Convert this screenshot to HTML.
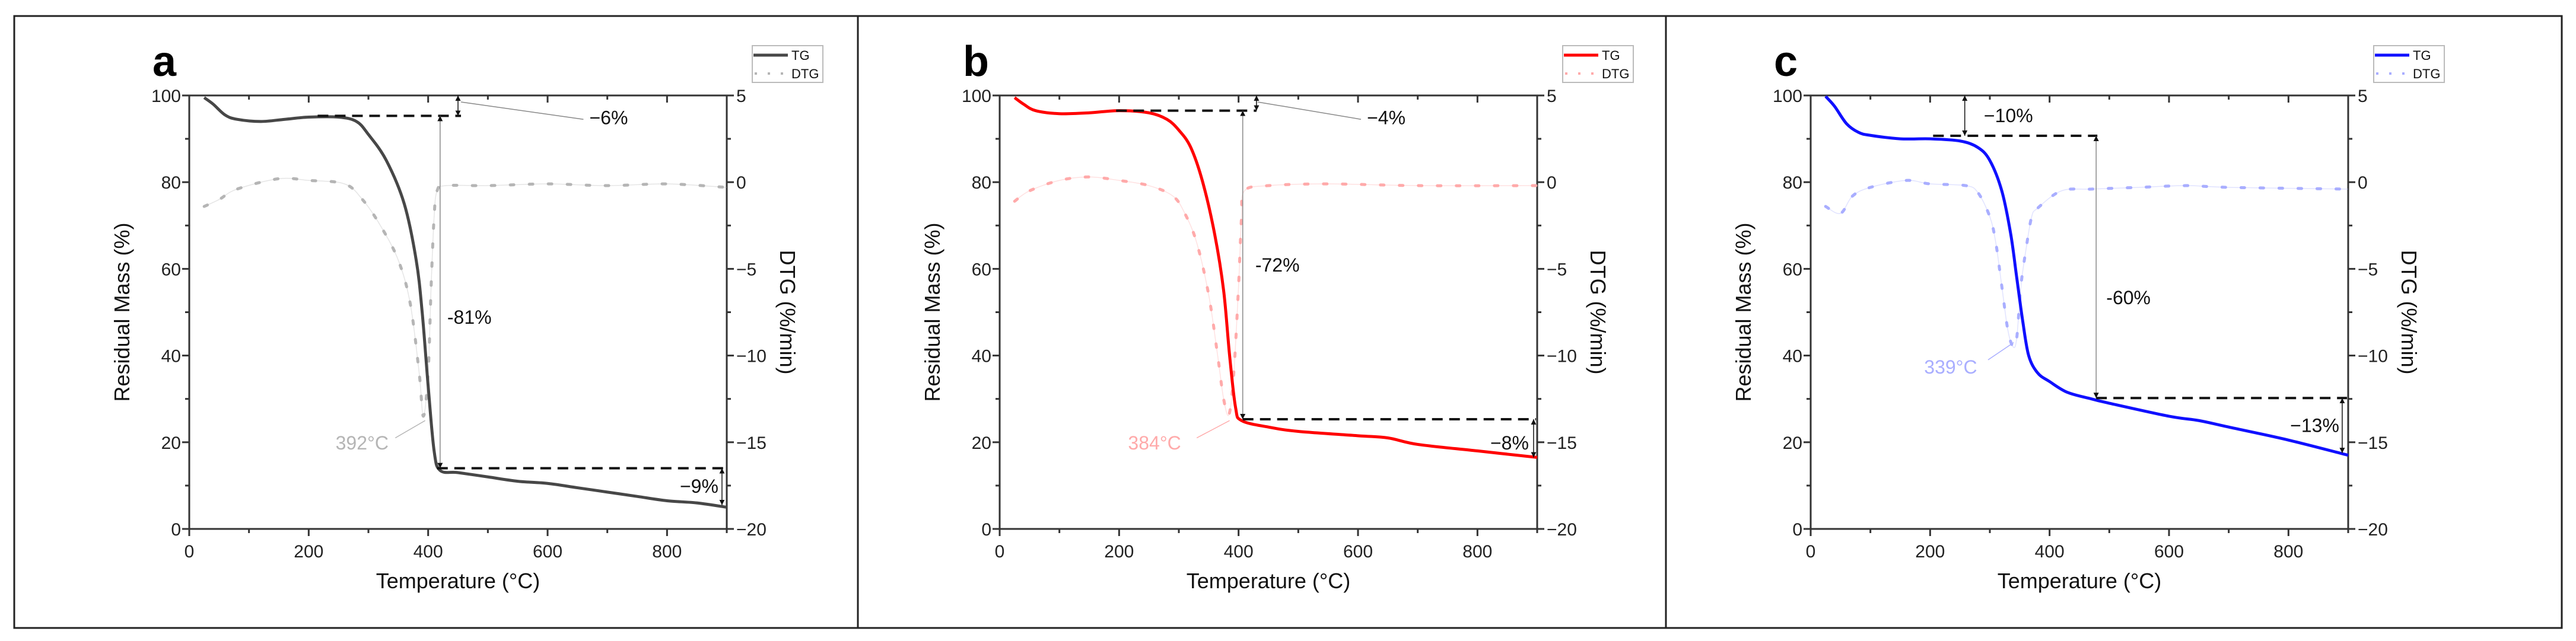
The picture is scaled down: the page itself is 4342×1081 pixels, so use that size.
<!DOCTYPE html>
<html><head><meta charset="utf-8"><style>
html,body{margin:0;padding:0;background:#fff;}
svg{display:block;font-family:"Liberation Sans",Arial,sans-serif;}
</style></head><body>
<svg id="fig" width="4342" height="1081" viewBox="0 0 4342 1081" xmlns="http://www.w3.org/2000/svg">
<rect x="24" y="27" width="4294" height="1032" fill="none" stroke="#222" stroke-width="3"/>
<line x1="1446" y1="27" x2="1446" y2="1059" stroke="#222" stroke-width="3"/>
<line x1="2808" y1="27" x2="2808" y2="1059" stroke="#222" stroke-width="3"/>
</svg>
<script>
// ---- data (temperature °C, residual mass %, DTG %/min) ----
const tgA_T = [25,40,60,80,120,160,200,250,280,300,330,360,380,390,400,410,420,450,500,550,600,650,700,750,800,850,900];
const tgA_M = [99.5,98,95.5,94.5,94,94.5,95,95,94,91,85,75,62,50,33,18,13.5,13,12,11,10.5,9.5,8.5,7.5,6.5,6,5];
const dtgA_T = [25,50,80,150,200,260,290,320,350,370,385,392,400,405,410,415,430,500,600,700,800,900];
const dtgA_V = [-1.4,-1,-0.4,0.2,0.1,-0.1,-1,-2.5,-4.5,-7,-11,-13.5,-11,-6,-2,-0.5,-0.2,-0.2,-0.1,-0.2,-0.1,-0.3];

const tgB_T = [25,40,60,100,150,200,250,280,300,320,340,360,375,385,395,405,450,500,600,650,700,800,900];
const tgB_M = [99.5,98,96.5,95.8,96,96.5,96,94.5,92,88,80,68,55,40,28,25,23.5,22.5,21.5,21,19.5,18,16.5];
const dtgB_T = [25,50,100,150,200,250,290,310,330,350,365,375,384,392,400,405,410,450,550,700,900];
const dtgB_V = [-1.1,-0.5,0.1,0.3,0.1,-0.2,-0.8,-1.8,-3.5,-6.5,-10,-12.5,-13.4,-11,-6,-2,-0.5,-0.2,-0.1,-0.2,-0.2];

const tgC_T = [25,40,60,80,100,150,200,250,280,300,320,335,345,355,365,380,400,430,470,500,600,650,700,800,900];
const tgC_M = [99.8,97.5,93.5,91.5,90.8,90,90,89.5,88,85,78,68,58,48,40,36,34,31.5,30,29,26,25,23.5,20.5,17];
const dtgC_T = [25,50,70,100,160,200,260,280,300,310,320,330,339,345,352,360,370,380,420,470,550,630,700,900];
const dtgC_V = [-1.4,-1.8,-0.8,-0.3,0.1,-0.1,-0.2,-0.6,-2,-3.5,-6,-8.5,-9.5,-9,-6,-4,-2,-1.5,-0.5,-0.4,-0.3,-0.2,-0.3,-0.4];

const xTicks = [0,200,400,600,800];
const yTicks = [0,20,40,60,80,100];
const y2Ticks = [5,0,-5,-10,-15,-20];
const y2Labels = ["5","0","\u22125","\u221210","\u221215","\u221220"];

const NS = "http://www.w3.org/2000/svg";
const svg = document.getElementById("fig");
function mk(tag, attrs, parent, text){
  const e = document.createElementNS(NS, tag);
  for (const k in attrs) e.setAttribute(k, attrs[k]);
  if (text !== undefined) e.textContent = text;
  (parent||svg).appendChild(e);
  return e;
}
function smooth(pts){
  let d = "M" + pts[0][0] + "," + pts[0][1];
  for (let i = 0; i < pts.length - 1; i++) {
    const p0 = pts[Math.max(0,i-1)], p1 = pts[i], p2 = pts[i+1], p3 = pts[Math.min(pts.length-1,i+2)];
    const c1x = p1[0] + (p2[0]-p0[0])/6, c1y = p1[1] + (p2[1]-p0[1])/6;
    const c2x = p2[0] - (p3[0]-p1[0])/6, c2y = p2[1] - (p3[1]-p1[1])/6;
    d += " C" + c1x + "," + c1y + " " + c2x + "," + c2y + " " + p2[0] + "," + p2[1];
  }
  return d;
}

const panels = [
  {id:"a", x0:319, tgT:tgA_T, tgM:tgA_M, dT:dtgA_T, dV:dtgA_V, tg:"#474747", dtg:"#b5b5b5",
   top:{y:95.3, x1:215, x2:455, ax:450, lbl:"\u22126%", lx:670, ly:95, leader:[455,98.5,660,94.5]},
   mid:{x:420, y1:95.3, y2:14, lbl:"-81%", lx:432, ly:49},
   bot:{y:14, x1:415, x2:898, ax:892, y2:5.5, lbl:"\u22129%", lx:886, ly:10},
   peak:{lbl:"392\u00b0C", lx:245, ly:20, leader:[345,21,395,25]}},
  {id:"b", x0:1685, tgT:tgB_T, tgM:tgB_M, dT:dtgB_T, dV:dtgB_V, tg:"#ff0000", dtg:"#ffaaaa",
   top:{y:96.5, x1:195, x2:430, ax:430, lbl:"\u22124%", lx:615, ly:95, leader:[432,98.5,605,94.5]},
   mid:{x:407, y1:96.5, y2:25.3, lbl:"-72%", lx:428, ly:61},
   bot:{y:25.3, x1:407, x2:898, ax:894, y2:16.5, lbl:"\u22128%", lx:886, ly:20},
   peak:{lbl:"384\u00b0C", lx:215, ly:20, leader:[330,21,385,25]}},
  {id:"c", x0:3052, tgT:tgC_T, tgM:tgC_M, dT:dtgC_T, dV:dtgC_V, tg:"#1010ff", dtg:"#a9aeff",
   top:{y:90.7, x1:205, x2:480, ax:258, lbl:"\u221210%", lx:290, ly:95.5, leader:null},
   mid:{x:478, y1:90.7, y2:30.2, lbl:"-60%", lx:495, ly:53.5},
   bot:{y:30.2, x1:478, x2:898, ax:890, y2:17.5, lbl:"\u221213%", lx:885, ly:24},
   peak:{lbl:"339\u00b0C", lx:190, ly:37.5, leader:[297,39,340,43]}}
];

const W = 906, YT = 161, YB = 892;
const defs = mk("defs", {});
const mAr = mk("marker", {id:"arr", viewBox:"0 0 10 10", refX:"10", refY:"5", markerWidth:"9", markerHeight:"14", orient:"auto-start-reverse", markerUnits:"userSpaceOnUse"}, defs);
mk("path", {d:"M0,0 L10,5 L0,10 z", fill:"#111"}, mAr);

panels.forEach(p => {
  const g = mk("g", {});
  
  
  const sx = t => p.x0 + t / 900 * W;
  const sy = m => YB - m / 100 * (YB - YT);
  const sy2 = v => YB - (v + 20) / 25 * (YB - YT);
  const xr = p.x0 + W;

  for (let t = 0; t <= 900; t += 100) {
    const major = t % 200 === 0;
    const len = major ? 12 : 7;
    const tk = mk("line", {x1:sx(t), x2:sx(t), y1:YB, y2:YB+len, stroke:"#333", "stroke-width":3}, g);
    
    
    mk("line", {x1:sx(t), x2:sx(t), y1:YT, y2:YT+len, stroke:"#333", "stroke-width":3}, g);
  }
  xTicks.forEach(t => {
    const tl = mk("text", {x:sx(t), y:YB+48, "font-size":30, fill:"#222", "text-anchor":"middle"}, g, String(t));
    
    
  });
  for (let m = 0; m <= 100; m += 10) {
    const len = m % 20 === 0 ? 12 : 7;
    mk("line", {x1:p.x0, x2:p.x0-len, y1:sy(m), y2:sy(m), stroke:"#333", "stroke-width":3}, g);
  }
  yTicks.forEach(m => {
    const tl = mk("text", {x:p.x0-14, y:sy(m)+11, "font-size":30, fill:"#222", "text-anchor":"end"}, g, String(m));
    
    
  });
  for (let v = -20; v <= 5; v += 2.5) {
    const len = Number.isInteger(v/5) ? 12 : 7;
    mk("line", {x1:xr, x2:xr+len, y1:sy2(v), y2:sy2(v), stroke:"#333", "stroke-width":3}, g);
  }
  y2Ticks.forEach((v,i) => {
    const tl = mk("text", {x:xr+16, y:sy2(v)+11, "font-size":30, fill:"#222"}, g, y2Labels[i]);
    
    
  });
  const frame = mk("rect", {x:p.x0, y:YT, width:W, height:YB-YT, fill:"none", stroke:"#333", "stroke-width":3}, g);
  
  

  const xt = mk("text", {x:p.x0+W/2, y:YB+100, "font-size":36, fill:"#111", "text-anchor":"middle"}, g, "Temperature (\u00b0C)");
  
  
  const yt = mk("text", {x:0, y:0, "font-size":36, fill:"#111", "text-anchor":"middle", transform:`translate(${p.x0-101},${(YT+YB)/2}) rotate(-90)`}, g, "Residual Mass (%)");
  
  
  const y2t = mk("text", {x:0, y:0, "font-size":36, fill:"#111", "text-anchor":"middle", transform:`translate(${xr+90},${(YT+YB)/2}) rotate(90)`}, g, "DTG (%/min)");
  
  
  const pl = mk("text", {x:p.x0-62, y:128, "font-size":72, "font-weight":"bold", fill:"#000"}, g, p.id);
  
  

  const dP = smooth(p.dT.map((t,i) => [sx(t), sy2(p.dV[i])]));
  mk("path", {d:dP, fill:"none", stroke:p.dtg, "stroke-width":1.5, opacity:0.35}, g);
  const dl = mk("path", {d:dP, fill:"none", stroke:p.dtg, "stroke-width":5, "stroke-dasharray":"6 26", "stroke-linecap":"round"}, g);
  
  
  const tP = smooth(p.tgT.map((t,i) => [sx(t), sy(p.tgM[i])]));
  const tl = mk("path", {d:tP, fill:"none", stroke:p.tg, "stroke-width":5, "stroke-linejoin":"round"}, g);
  
  

  const A = p.top, M = p.mid, B = p.bot, P = p.peak;
  mk("line", {x1:sx(A.x1), x2:sx(A.x2), y1:sy(A.y), y2:sy(A.y), stroke:"#111", "stroke-width":4, "stroke-dasharray":"18 11"}, g);
  mk("line", {x1:sx(A.ax), x2:sx(A.ax), y1:sy(100), y2:sy(A.y), stroke:"#111", "stroke-width":1.5, "marker-start":"url(#arr)", "marker-end":"url(#arr)"}, g);
  if (A.leader) mk("line", {x1:sx(A.leader[0]), y1:sy(A.leader[1]), x2:sx(A.leader[2]), y2:sy(A.leader[3]), stroke:"#888", "stroke-width":1.5}, g);
  const at = mk("text", {x:sx(A.lx), y:sy(A.ly)+12, "font-size":32, fill:"#111"}, g, A.lbl);
  
  
  mk("line", {x1:sx(M.x), x2:sx(M.x), y1:sy(M.y1), y2:sy(M.y2), stroke:"#888", "stroke-width":1.5, "marker-start":"url(#arr)", "marker-end":"url(#arr)"}, g);
  const mt = mk("text", {x:sx(M.lx), y:sy(M.ly)+12, "font-size":32, fill:"#111"}, g, M.lbl);
  
  
  mk("line", {x1:sx(B.x1), x2:sx(B.x2), y1:sy(B.y), y2:sy(B.y), stroke:"#111", "stroke-width":4, "stroke-dasharray":"18 11"}, g);
  mk("line", {x1:sx(B.ax), x2:sx(B.ax), y1:sy(B.y), y2:sy(B.y2), stroke:"#111", "stroke-width":1.5, "marker-start":"url(#arr)", "marker-end":"url(#arr)"}, g);
  const bt = mk("text", {x:sx(B.lx), y:sy(B.ly)+12, "font-size":32, fill:"#111", "text-anchor":"end"}, g, B.lbl);
  
  
  mk("line", {x1:sx(P.leader[0]), y1:sy(P.leader[1]), x2:sx(P.leader[2]), y2:sy(P.leader[3]), stroke:p.dtg, "stroke-width":1.5}, g);
  const ptx = mk("text", {x:sx(P.lx), y:sy(P.ly)+12, "font-size":32, fill:p.dtg}, g, P.lbl);
  
  

  const lg = mk("g", {}, g);
  
  
  const lx = xr + 43;
  mk("rect", {x:lx, y:77, width:119, height:62, fill:"#fff", stroke:"#bbb", "stroke-width":2}, lg);
  mk("line", {x1:lx+2, x2:lx+60, y1:93, y2:93, stroke:p.tg, "stroke-width":5}, lg);
  const l1 = mk("text", {x:lx+66, y:101, "font-size":22, fill:"#111"}, lg, "TG");
  
  
  mk("line", {x1:lx+4, x2:lx+60, y1:124, y2:124, stroke:p.dtg, "stroke-width":4, "stroke-dasharray":"4 18"}, lg);
  const l2 = mk("text", {x:lx+66, y:132, "font-size":22, fill:"#111"}, lg, "DTG");
  
  
});
</script>
</body></html>
